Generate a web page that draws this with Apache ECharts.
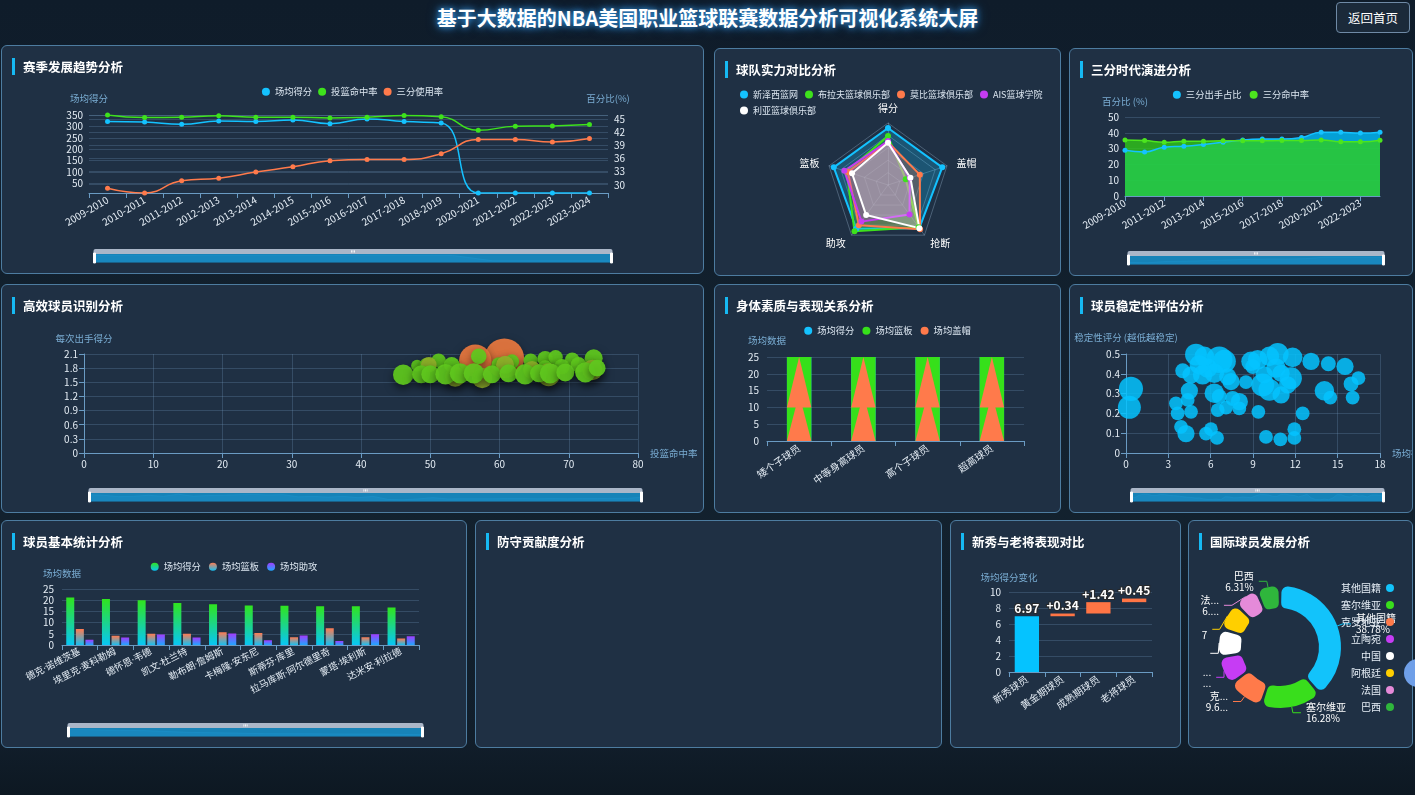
<!DOCTYPE html>
<html lang="zh-CN">
<head>
<meta charset="utf-8">
<title>基于大数据的NBA美国职业篮球联赛数据分析可视化系统大屏</title>
<script src="https://cdn.jsdelivr.net/npm/echarts@6/dist/echarts.min.js"></script>
<style>
html, body { margin: 0; padding: 0; }
body {
  width: 1415px; height: 795px; overflow: hidden; position: relative;
  background: linear-gradient(180deg, #0f1c2a 0%, #13222f 55%, #111e2b 93%, #0d1822 100%);
  font-family: "Noto Sans CJK SC", "Noto Sans", sans-serif;
}
.screen-title {
  position: absolute; left: 0; top: 4px; width: 1415px; text-align: center;
  color: #fff; font-size: 20px; font-weight: bold; letter-spacing: 0; line-height: 28px;
  text-shadow: 0 0 6px rgba(60,170,255,.9), 0 0 12px rgba(40,140,230,.6);
}
.back-btn {
  position: absolute; left: 1336px; top: 2px; width: 74px; height: 31px; box-sizing: border-box;
  border: 1px solid #6f8aa6; border-radius: 4px; background: #1b2a3a;
  color: #fff; font-size: 12.5px; line-height: 29px; text-align: center;
}
.panel {
  position: absolute; box-sizing: border-box; background: #1f3044;
  border: 1px solid #4d7ca0; border-radius: 6px; overflow: hidden;
}
.panel h3 {
  position: absolute; left: 21px; top: 12px; margin: 0; z-index: 2;
  color: #fff; font-size: 12.5px; font-weight: bold; line-height: 17px; white-space: nowrap;
}
.panel h3::before {
  content: ''; position: absolute; left: -11px; top: 0; width: 3px; height: 17px; background: #16b9f3;
}
.chart { position: absolute; left: 0; top: 0; width: 100%; height: 100%; }
.float-ball { position: absolute; left: 1404px; top: 659px; width: 28px; height: 28px; border-radius: 50%; background: #6f9fe8; }
</style>
</head>
<body>
<div class="screen-title">基于大数据的NBA美国职业篮球联赛数据分析可视化系统大屏</div>
<div class="back-btn">返回首页</div>

<div class="panel" style="left:1px;top:45px;width:703px;height:229px;">
  <div class="chart" id="seasonChart"></div><h3>赛季发展趋势分析</h3>
</div>
<div class="panel" style="left:714px;top:48px;width:347px;height:228px;">
  <div class="chart" id="radarChart"></div><h3>球队实力对比分析</h3>
</div>
<div class="panel" style="left:1069px;top:48px;width:344px;height:228px;">
  <div class="chart" id="threeChart"></div><h3>三分时代演进分析</h3>
</div>

<div class="panel" style="left:1px;top:284px;width:703px;height:229px;">
  <div class="chart" id="effChart"></div><h3>高效球员识别分析</h3>
</div>
<div class="panel" style="left:714px;top:284px;width:347px;height:229px;">
  <div class="chart" id="bodyChart"></div><h3>身体素质与表现关系分析</h3>
</div>
<div class="panel" style="left:1069px;top:284px;width:344px;height:229px;">
  <div class="chart" id="stableChart"></div><h3>球员稳定性评估分析</h3>
</div>

<div class="panel" style="left:1px;top:520px;width:466px;height:228px;">
  <div class="chart" id="playerChart"></div><h3>球员基本统计分析</h3>
</div>
<div class="panel" style="left:475px;top:520px;width:467px;height:228px;">
  <h3>防守贡献度分析</h3>
</div>
<div class="panel" style="left:950px;top:520px;width:231px;height:228px;">
  <div class="chart" id="stageChart"></div><h3>新秀与老将表现对比</h3>
</div>
<div class="panel" style="left:1188px;top:520px;width:225px;height:228px;">
  <div class="chart" id="countryChart"></div><h3>国际球员发展分析</h3>
</div>
<div class="float-ball"></div>

<script>
// ---- data ----
var seasons = ['2009-2010', '2010-2011', '2011-2012', '2012-2013', '2013-2014', '2014-2015', '2015-2016',
  '2016-2017', '2017-2018', '2018-2019', '2020-2021', '2021-2022', '2022-2023', '2023-2024'];
var seasonAvgScore = [322, 319, 309, 324, 322, 328, 312, 333, 321, 315, 8.29, 8.29, 8.29, 8.29];
var seasonFgPct = [46.0, 45.4, 45.5, 45.8, 45.5, 45.5, 45.3, 45.5, 45.9, 45.6, 42.5, 43.4, 43.5, 43.8];
var seasonThreeUse = [29.2, 28.1, 30.9, 31.5, 32.9, 34.1, 35.5, 35.8, 35.8, 37.1, 40.4, 40.4, 39.8, 40.6];

var radarIndicators = ['得分', '篮板', '助攻', '抢断', '盖帽'];
var radarTeams = ['新泽西篮网', '布拉夫篮球俱乐部', '莫比篮球俱乐部', 'AIS篮球学院', '利亚篮球俱乐部'];
var radarScores = [
  [92, 92, 87, 86, 92],
  [79, 70, 92, 84, 30],
  [69, 68, 80, 88, 54],
  [71, 74, 73, 59, 37],
  [68, 61, 60, 86, 38]
];

var threeAttemptShare = [28.9, 27.9, 30.9, 31.5, 32.6, 34.0, 35.5, 36.0, 36.0, 37.0, 40.4, 40.4, 39.8, 40.4];
var threeMakePct = [35.5, 35.1, 34.0, 34.7, 34.7, 34.9, 34.9, 34.9, 35.1, 35.1, 35.5, 34.3, 34.3, 35.3];

// [投篮命中率, 每次出手得分, 效率值, 档位]
var effPlayers = [
  [60.7, 2.01, 33, 2], [56.5, 1.96, 27, 2],
  [48.1, 1.85, 10, 0], [49.5, 1.87, 12, 0], [51.2, 1.96, 12, 0], [53.1, 1.87, 13, 0], [57.0, 2.05, 13, 0],
  [59.9, 1.88, 12, 0], [61.8, 1.94, 12, 0], [64.5, 1.96, 12, 0], [66.6, 2.00, 13, 0], [68.1, 2.03, 12, 0],
  [70.5, 1.98, 12, 0], [73.6, 2.01, 15, 0], [69.0, 1.83, 13, 0], [71.4, 1.87, 13, 0], [66.6, 1.80, 13, 0],
  [49.8, 1.87, 13, 1], [64.7, 1.76, 15, 1], [60.8, 1.87, 15, 1],
  [53.6, 1.62, 17, 1], [57.5, 1.59, 17, 1], [67.1, 1.66, 19, 1], [73.4, 1.76, 17, 1],
  [46.1, 1.66, 17, 0], [48.7, 1.67, 15, 0], [50.0, 1.67, 15, 0], [52.2, 1.67, 17, 0], [54.3, 1.69, 17, 0],
  [56.3, 1.69, 17, 0], [58.9, 1.67, 15, 0], [61.3, 1.69, 15, 0], [63.7, 1.67, 17, 0], [65.7, 1.69, 15, 0],
  [67.3, 1.69, 17, 0], [69.5, 1.71, 15, 0], [72.4, 1.71, 17, 0], [74.1, 1.80, 14, 0]
];

var bodyGroups = ['矮个子球员', '中等身高球员', '高个子球员', '超高球员'];
var bodyScore = [25, 25, 25, 25];
var bodyRebound = [25, 25, 25, 25];
var bodyBlockLow = [14, 14, 14, 14];
var bodyBlockMidBase = [10, 10, 10, 10];
var bodyBlockMidTop = [25, 25, 25, 25];

// [场均得分, 稳定性评分, 出场权重]
var stability = [
  [0.35, 0.324, 21], [0.24, 0.231, 20], [4.02, 0.415, 13], [4.96, 0.497, 19], [5.55, 0.488, 17],
  [4.61, 0.395, 15], [5.43, 0.395, 17], [6.61, 0.471, 23], [6.97, 0.463, 20], [6.26, 0.403, 17],
  [7.21, 0.386, 15], [7.44, 0.361, 15], [4.49, 0.314, 15], [4.37, 0.268, 12], [3.54, 0.251, 12],
  [3.66, 0.200, 12], [4.61, 0.208, 12], [3.90, 0.132, 12], [4.25, 0.098, 15], [5.67, 0.098, 12],
  [6.02, 0.120, 12], [6.45, 0.076, 12], [6.26, 0.302, 17], [6.61, 0.285, 13], [6.50, 0.217, 12],
  [7.09, 0.229, 12], [7.56, 0.276, 13], [8.03, 0.259, 15], [8.03, 0.225, 12], [8.50, 0.358, 12],
  [8.86, 0.463, 17], [9.33, 0.471, 17], [8.98, 0.437, 13], [9.69, 0.344, 20], [10.16, 0.319, 19],
  [10.16, 0.488, 17], [10.75, 0.500, 19], [10.63, 0.429, 17], [10.99, 0.403, 15], [10.99, 0.293, 15],
  [11.69, 0.378, 19], [11.81, 0.483, 17], [9.38, 0.208, 12], [9.92, 0.081, 12], [10.94, 0.069, 12],
  [11.93, 0.120, 12], [11.93, 0.076, 12], [12.52, 0.200, 12], [13.11, 0.463, 15], [14.34, 0.451, 13],
  [14.06, 0.314, 17], [14.48, 0.280, 12], [15.52, 0.437, 15], [15.95, 0.349, 13], [16.47, 0.378, 12],
  [16.06, 0.280, 12], [5.79, 0.429, 17], [5.20, 0.446, 17], [9.80, 0.395, 15], [11.46, 0.344, 15]
];

var players = ['德克·诺维茨基', '埃里克·麦科勒姆', '德怀恩·韦德', '凯文·杜兰特', '勒布朗·詹姆斯',
  '卡梅隆·安东尼', '斯蒂芬·库里', '拉马库斯·阿尔德里奇', '蒙塔·埃利斯', '达米安·利拉德'];
var playerPts = [21.2, 20.5, 20.0, 18.7, 18.2, 17.6, 17.5, 17.3, 17.3, 16.7];
var playerReb = [7.1, 4.1, 5.0, 5.0, 5.7, 5.4, 3.5, 7.5, 3.5, 2.9];
var playerAst = [2.3, 3.3, 4.7, 3.3, 5.1, 2.1, 4.2, 1.8, 4.8, 3.9];

var stages = ['新秀球员', '黄金期球员', '成熟期球员', '老将球员'];
var stageChange = [6.97, 0.34, 1.42, 0.45];

var countries = ['其他国籍', '塞尔维亚', '克罗地亚', '立陶宛', '中国', '阿根廷', '法国', '巴西'];
var countryShare = [38.78, 16.28, 9.65, 7.6, 7.5, 7.4, 6.48, 6.31];

// ---- styles ----
var FONT = '"Noto Sans CJK SC","Noto Sans",sans-serif';
var CYAN = '#14c2ff', GREEN = '#3ee21c', ORANGE = '#ff7a4b', PURPLE = '#c53cf2';
var AXIS_LINE = '#6a9bc3', LABEL = '#e4ecf4', NAME = '#79acd2', SPLIT = 'rgba(110,150,185,0.28)';
var LEGEND_TEXT = { color: '#dce6f0', fontSize: 9.3, fontFamily: FONT };

function labelStyle(extra) {
  var s = { color: LABEL, fontSize: 10, fontFamily: FONT };
  for (var k in extra) s[k] = extra[k];
  return s;
}
function nameStyle() { return { color: NAME, fontSize: 9.5, fontFamily: FONT }; }

function slider(left, right) {
  var bg = { lineStyle: { color: '#3cb0e2', width: 1, opacity: 0.7 }, areaStyle: { color: '#2b9fd4', opacity: 0.45 } };
  return {
    type: 'slider', xAxisIndex: 0, start: 0, end: 100, left: left, right: right, bottom: 15, height: 9,
    showDetail: false, brushSelect: true, moveHandleSize: 5,
    backgroundColor: 'rgba(20,60,90,0.4)', borderColor: 'rgba(0,0,0,0)',
    fillerColor: 'rgba(24,140,196,0.9)',
    dataBackground: bg, selectedDataBackground: bg,
    handleIcon: 'path://M0,0 H4 V20 H0 Z', handleSize: '110%',
    handleStyle: { color: '#ffffff', borderColor: '#ffffff' },
    moveHandleStyle: { color: '#aab6c8', opacity: 1 },
    textStyle: { color: 'transparent' }
  };
}

// ---- 赛季发展趋势分析 ----
(function () {
  var chart = echarts.init(document.getElementById('seasonChart'));
  function line(name, data, color, axis) {
    return {
      name: name, type: 'line', yAxisIndex: axis, data: data, smooth: true,
      symbol: 'circle', symbolSize: 5, lineStyle: { color: color, width: 1.5 }, itemStyle: { color: color }
    };
  }
  chart.setOption({
    textStyle: { fontFamily: FONT },
    legend: { top: 36, left: 'center', icon: 'circle', itemWidth: 8, itemHeight: 8, itemGap: 6, textStyle: LEGEND_TEXT,
      data: ['场均得分', '投篮命中率', '三分使用率'] },
    grid: { left: 87, right: 95, top: 69, bottom: 80, outerBoundsMode: 'none' },
    xAxis: {
      type: 'category', data: seasons,
      axisLine: { lineStyle: { color: AXIS_LINE } }, axisTick: { show: true, lineStyle: { color: AXIS_LINE } },
      axisLabel: labelStyle({ rotate: 30, interval: 0, margin: 6 })
    },
    yAxis: [
      { type: 'value', name: '场均得分', nameGap: 12, nameTextStyle: nameStyle(), min: 'dataMin', max: 350,
        axisLine: { show: false }, axisTick: { show: false }, axisLabel: labelStyle({ margin: 6 }),
        splitLine: { lineStyle: { color: SPLIT } } },
      { type: 'value', name: '百分比(%)', nameGap: 12, nameTextStyle: nameStyle(), min: 'dataMin', max: 'dataMax',
        position: 'right', axisLine: { show: false }, axisTick: { show: false },
        axisLabel: labelStyle({ margin: 6, showMinLabel: false, showMaxLabel: false }),
        splitLine: { lineStyle: { color: SPLIT } } }
    ],
    dataZoom: [slider(89, 93)],
    series: [
      line('场均得分', seasonAvgScore, CYAN, 0),
      line('投篮命中率', seasonFgPct, GREEN, 1),
      line('三分使用率', seasonThreeUse, ORANGE, 1)
    ]
  });
})();

// ---- 球队实力对比分析 ----
(function () {
  var chart = echarts.init(document.getElementById('radarChart'));
  var colors = [CYAN, GREEN, ORANGE, PURPLE, '#ffffff'];
  chart.setOption({
    textStyle: { fontFamily: FONT },
    legend: { top: 36, left: 20, right: 4, icon: 'circle', itemWidth: 8, itemHeight: 8, itemGap: 7,
      textStyle: { color: '#dce6f0', fontSize: 9, fontFamily: FONT }, data: radarTeams },
    radar: {
      center: [173, 136], radius: 62, splitNumber: 5, nameGap: 10,
      indicator: radarIndicators.map(function (n) { return { name: n, max: 100 }; }),
      axisName: { color: '#ffffff', fontSize: 10, fontFamily: FONT },
      splitLine: { lineStyle: { color: 'rgba(160,190,215,0.35)' } },
      splitArea: { show: false },
      axisLine: { lineStyle: { color: 'rgba(160,190,215,0.35)' } }
    },
    series: [{
      type: 'radar', symbol: 'circle', symbolSize: 6,
      data: radarTeams.map(function (t, i) {
        return { name: t, value: radarScores[i], itemStyle: { color: colors[i] },
          lineStyle: { color: colors[i], width: 2 }, areaStyle: { color: colors[i], opacity: 0.25 } };
      })
    }]
  });
})();

// ---- 三分时代演进分析 ----
(function () {
  var chart = echarts.init(document.getElementById('threeChart'));
  chart.setOption({
    textStyle: { fontFamily: FONT },
    legend: { top: 36, left: 'center', icon: 'circle', itemWidth: 8, itemHeight: 8, itemGap: 8, textStyle: LEGEND_TEXT,
      data: ['三分出手占比', '三分命中率'] },
    grid: { left: 55, right: 32, top: 68, bottom: 79, outerBoundsMode: 'none' },
    xAxis: {
      type: 'category', data: seasons, boundaryGap: false,
      axisLine: { lineStyle: { color: AXIS_LINE } }, axisTick: { show: true, interval: 1, lineStyle: { color: AXIS_LINE } },
      axisLabel: labelStyle({ rotate: 30, interval: 1, margin: 6 })
    },
    yAxis: { type: 'value', name: '百分比 (%)', nameGap: 11, nameTextStyle: nameStyle(), min: 0, max: 50, interval: 10,
      axisLine: { show: false }, axisTick: { show: false }, axisLabel: labelStyle({ margin: 6 }),
      splitLine: { lineStyle: { color: SPLIT } } },
    dataZoom: [slider(55, 30)],
    series: [
      { name: '三分出手占比', type: 'line', data: threeAttemptShare, smooth: true, symbol: 'circle', symbolSize: 5,
        lineStyle: { color: CYAN, width: 1.5 }, itemStyle: { color: CYAN },
        areaStyle: { color: '#00b4f0', opacity: 0.85 } },
      { name: '三分命中率', type: 'line', data: threeMakePct, smooth: true, symbol: 'circle', symbolSize: 5,
        lineStyle: { color: '#4ce51e', width: 1.5 }, itemStyle: { color: '#4ce51e' },
        areaStyle: { color: '#32d214', opacity: 0.75 } }
    ]
  });
})();

// ---- 高效球员识别分析 ----
(function () {
  var chart = echarts.init(document.getElementById('effChart'));
  var tierColors = ['#60c81e', '#8fae2a', '#e8773e'];
  chart.setOption({
    textStyle: { fontFamily: FONT },
    grid: { left: 82, right: 65, top: 69, bottom: 59, outerBoundsMode: 'none' },
    xAxis: { type: 'value', name: '投篮命中率', nameGap: 12, nameTextStyle: nameStyle(), min: 0, max: 80, interval: 10,
      axisLine: { show: true, lineStyle: { color: AXIS_LINE } }, axisTick: { show: true, lineStyle: { color: AXIS_LINE } },
      axisLabel: labelStyle({ margin: 6 }), splitLine: { show: true, lineStyle: { color: SPLIT } } },
    yAxis: { type: 'value', name: '每次出手得分', nameGap: 11, nameTextStyle: nameStyle(), min: 0, max: 2.1, interval: 0.3,
      axisLine: { show: true, lineStyle: { color: AXIS_LINE } }, axisTick: { show: true, lineStyle: { color: AXIS_LINE } },
      axisLabel: labelStyle({ margin: 6 }), splitLine: { show: true, lineStyle: { color: SPLIT } } },
    dataZoom: [slider(84, 63)],
    series: [{
      type: 'scatter', data: effPlayers,
      symbolSize: function (d) { return d[2] * 1.2; },
      itemStyle: {
        color: function (p) { return tierColors[p.data[3]]; },
        opacity: 0.93, shadowBlur: 8, shadowOffsetY: 4, shadowColor: 'rgba(0,0,0,0.55)'
      }
    }]
  });
})();

// ---- 身体素质与表现关系分析 ----
(function () {
  var chart = echarts.init(document.getElementById('bodyChart'));
  var upper = bodyGroups.map(function (g, i) {
    var share = (bodyBlockMidTop[i] - bodyBlockMidBase[i]) / bodyBlockMidTop[i] * 100;
    return { value: bodyBlockMidTop[i], symbolSize: ['100%', share + '%'] };
  });
  chart.setOption({
    textStyle: { fontFamily: FONT },
    legend: { top: 36, left: 'center', icon: 'circle', itemWidth: 8, itemHeight: 8, itemGap: 8, textStyle: LEGEND_TEXT,
      data: ['场均得分', '场均篮板', '场均盖帽'] },
    grid: { left: 52, right: 36, top: 72, bottom: 71, outerBoundsMode: 'none' },
    xAxis: { type: 'category', data: bodyGroups,
      axisLine: { lineStyle: { color: AXIS_LINE } }, axisTick: { show: true, lineStyle: { color: AXIS_LINE } },
      axisLabel: labelStyle({ rotate: 35, interval: 0, margin: 6 }) },
    yAxis: { type: 'value', name: '场均数据', nameGap: 12, nameTextStyle: nameStyle(), min: 0, max: 25, interval: 5,
      axisLine: { show: false }, axisTick: { show: false }, axisLabel: labelStyle({ margin: 8 }),
      splitLine: { lineStyle: { color: SPLIT } } },
    series: [
      { name: '场均得分', type: 'bar', data: bodyScore, barWidth: '38%', barGap: '-100%', itemStyle: { color: CYAN } },
      { name: '场均篮板', type: 'bar', data: bodyRebound, barWidth: '38%', barGap: '-100%', itemStyle: { color: '#36e01a' } },
      { name: '场均盖帽', type: 'pictorialBar', symbol: 'triangle', data: bodyBlockLow, barWidth: '38%',
        symbolSize: ['100%', '100%'], symbolPosition: 'start', z: 10, itemStyle: { color: ORANGE } },
      { name: '场均盖帽', type: 'pictorialBar', symbol: 'triangle', data: upper, barWidth: '38%',
        symbolPosition: 'end', z: 11, itemStyle: { color: ORANGE } }
    ]
  });
})();

// ---- 球员稳定性评估分析 ----
(function () {
  var chart = echarts.init(document.getElementById('stableChart'));
  chart.setOption({
    textStyle: { fontFamily: FONT },
    grid: { left: 56, right: 32, top: 69, bottom: 59, outerBoundsMode: 'none' },
    xAxis: { type: 'value', name: '场均得分', nameGap: 12, nameTextStyle: nameStyle(), min: 0, max: 18, interval: 3,
      axisLine: { show: true, lineStyle: { color: AXIS_LINE } }, axisTick: { show: true, lineStyle: { color: AXIS_LINE } },
      axisLabel: labelStyle({ margin: 6 }), splitLine: { show: true, lineStyle: { color: SPLIT } } },
    yAxis: { type: 'value', name: '稳定性评分 (越低越稳定)', nameGap: 12, nameTextStyle: nameStyle(), min: 0, max: 0.5, interval: 0.1,
      axisLine: { show: true, lineStyle: { color: AXIS_LINE } }, axisTick: { show: true, lineStyle: { color: AXIS_LINE } },
      axisLabel: labelStyle({ margin: 6 }), splitLine: { show: true, lineStyle: { color: SPLIT } } },
    dataZoom: [slider(58, 30)],
    series: [{
      type: 'scatter', data: stability,
      symbolSize: function (d) { return d[2] * 1.15; },
      itemStyle: { color: '#05c3ff', opacity: 0.85 }
    }]
  });
})();

// ---- 球员基本统计分析 ----
(function () {
  var chart = echarts.init(document.getElementById('playerChart'));
  function grad(top, bottom) {
    return new echarts.graphic.LinearGradient(0, 0, 0, 1, [{ offset: 0, color: top }, { offset: 1, color: bottom }]);
  }
  chart.setOption({
    textStyle: { fontFamily: FONT },
    legend: { top: 36, left: 'center', icon: 'circle', itemWidth: 8, itemHeight: 8, itemGap: 8, textStyle: LEGEND_TEXT,
      data: ['场均得分', '场均篮板', '场均助攻'] },
    grid: { left: 60, right: 47, top: 68, bottom: 102, outerBoundsMode: 'none' },
    xAxis: { type: 'category', data: players,
      axisLine: { lineStyle: { color: AXIS_LINE } }, axisTick: { show: true, lineStyle: { color: AXIS_LINE } },
      axisLabel: labelStyle({ rotate: 27, interval: 0, margin: 6, fontSize: 9.5, fontFamily: '"Noto Sans","Noto Sans CJK SC",sans-serif' }) },
    yAxis: { type: 'value', name: '场均数据', nameGap: 11, nameTextStyle: nameStyle(), min: 0, max: 25, interval: 5,
      axisLine: { show: false }, axisTick: { show: false }, axisLabel: labelStyle({ margin: 8 }),
      splitLine: { lineStyle: { color: SPLIT } } },
    dataZoom: [slider(63, 45)],
    series: [
      { name: '场均得分', type: 'bar', data: playerPts, barWidth: 8, barGap: '20%', itemStyle: { color: grad('#30e41e', '#08c6f5') } },
      { name: '场均篮板', type: 'bar', data: playerReb, barWidth: 8, barGap: '20%', itemStyle: { color: grad('#ff7b52', '#18bff0') } },
      { name: '场均助攻', type: 'bar', data: playerAst, barWidth: 8, barGap: '20%', itemStyle: { color: grad('#a23cff', '#1fa6ff') } }
    ]
  });
})();

// ---- 新秀与老将表现对比 ----
(function () {
  var chart = echarts.init(document.getElementById('stageChart'));
  var base = [], acc = 0;
  stageChange.forEach(function (v, i) { base.push(i === 0 ? 0 : acc); acc += v; });
  chart.setOption({
    textStyle: { fontFamily: FONT },
    grid: { left: 58, right: 28, top: 71, bottom: 75, outerBoundsMode: 'none' },
    xAxis: { type: 'category', data: stages,
      axisLine: { lineStyle: { color: AXIS_LINE } }, axisTick: { show: true, lineStyle: { color: AXIS_LINE } },
      axisLabel: labelStyle({ rotate: 35, interval: 0, margin: 6 }) },
    yAxis: { type: 'value', name: '场均得分变化', nameGap: 10, nameTextStyle: nameStyle(), min: 0, max: 10, interval: 2,
      axisLine: { show: false }, axisTick: { show: false }, axisLabel: labelStyle({ margin: 8 }),
      splitLine: { lineStyle: { color: SPLIT } } },
    series: [
      { name: '基础', type: 'bar', stack: 'w', data: base, barWidth: '68%', itemStyle: { color: 'rgba(0,0,0,0)' } },
      { name: '变化', type: 'bar', stack: 'w', data: stageChange, barWidth: '68%',
        itemStyle: { color: function (p) { return p.dataIndex === 0 ? '#05c3ff' : '#ff7545'; } },
        label: { show: true, position: 'top', distance: 2, color: '#ffffff', fontSize: 12, fontWeight: 'bold',
          textBorderColor: 'rgba(40,40,40,0.9)', textBorderWidth: 2,
          formatter: function (p) { return (p.dataIndex === 0 ? '' : '+') + p.value.toFixed(2); } } }
    ]
  });
})();

// ---- 国际球员发展分析 ----
(function () {
  var chart = echarts.init(document.getElementById('countryChart'));
  var colors = ['#12c3fb', '#39de1c', '#ff7a4a', '#c63cf4', '#ffffff', '#ffcf00', '#e58ad9', '#2fb63c'];
  chart.setOption({
    textStyle: { fontFamily: FONT },
    legend: { orient: 'vertical', right: 13, top: 57, align: 'right', icon: 'circle', itemWidth: 8, itemHeight: 8,
      itemGap: 7, textStyle: { color: '#e6eef6', fontSize: 10, fontFamily: FONT }, data: countries },
    series: [{
      type: 'pie', center: [91, 126], radius: [39, 61], padAngle: 3,
      itemStyle: { borderRadius: 6 },
      label: { formatter: '{b}\n{d}%', color: '#ffffff', fontSize: 10, lineHeight: 11 },
      labelLine: { length: 6, length2: 8 },
      data: countries.map(function (c, i) { return { name: c, value: countryShare[i], itemStyle: { color: colors[i] } }; })
    }]
  });
})();
</script>
</body>
</html>
